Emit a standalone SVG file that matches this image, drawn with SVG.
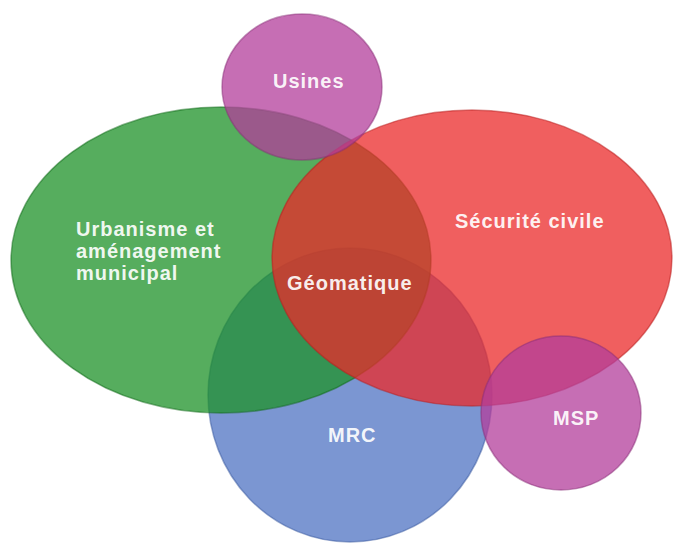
<svg xmlns="http://www.w3.org/2000/svg" width="673" height="544" viewBox="0 0 673 544">
<style>
.shape{fill-opacity:0.75;stroke-opacity:0.5;stroke-width:1.5}
.lbl{font-family:"Liberation Sans",Arial,sans-serif;font-weight:bold;font-size:20px;fill:#ffffff;fill-opacity:0.93;letter-spacing:1px}
</style>
<rect width="673" height="544" fill="#ffffff"/>
<g id="mrc">
<ellipse class="shape" cx="350" cy="395" rx="142" ry="147" fill="#4f73c3" stroke="#3a5aa0"/>
<text class="lbl" x="328" y="442">MRC</text>
</g>
<g id="urbanisme">
<ellipse class="shape" cx="221" cy="260" rx="210" ry="153" fill="#1e9228" stroke="#106a18"/>
<text class="lbl" x="76" y="236">Urbanisme et</text>
<text class="lbl" x="76" y="258">aménagement</text>
<text class="lbl" x="76" y="280">municipal</text>
</g>
<g id="securite">
<ellipse class="shape" cx="472" cy="258" rx="200" ry="148" fill="#eb2a2a" stroke="#b81e1e"/>
<text class="lbl" x="455" y="228">Sécurité civile</text>
</g>
<g id="usines">
<ellipse class="shape" cx="302" cy="87" rx="80" ry="73" fill="#b33d9b" stroke="#8a2d78"/>
<text class="lbl" x="273" y="88">Usines</text>
</g>
<g id="msp">
<ellipse class="shape" cx="561" cy="413" rx="80" ry="77" fill="#b33d9b" stroke="#8a2d78"/>
<text class="lbl" x="553" y="425">MSP</text>
</g>
<g id="geomatique">
<text class="lbl" x="287" y="290">Géomatique</text>
</g>
<g id="connectors"></g>
</svg>
